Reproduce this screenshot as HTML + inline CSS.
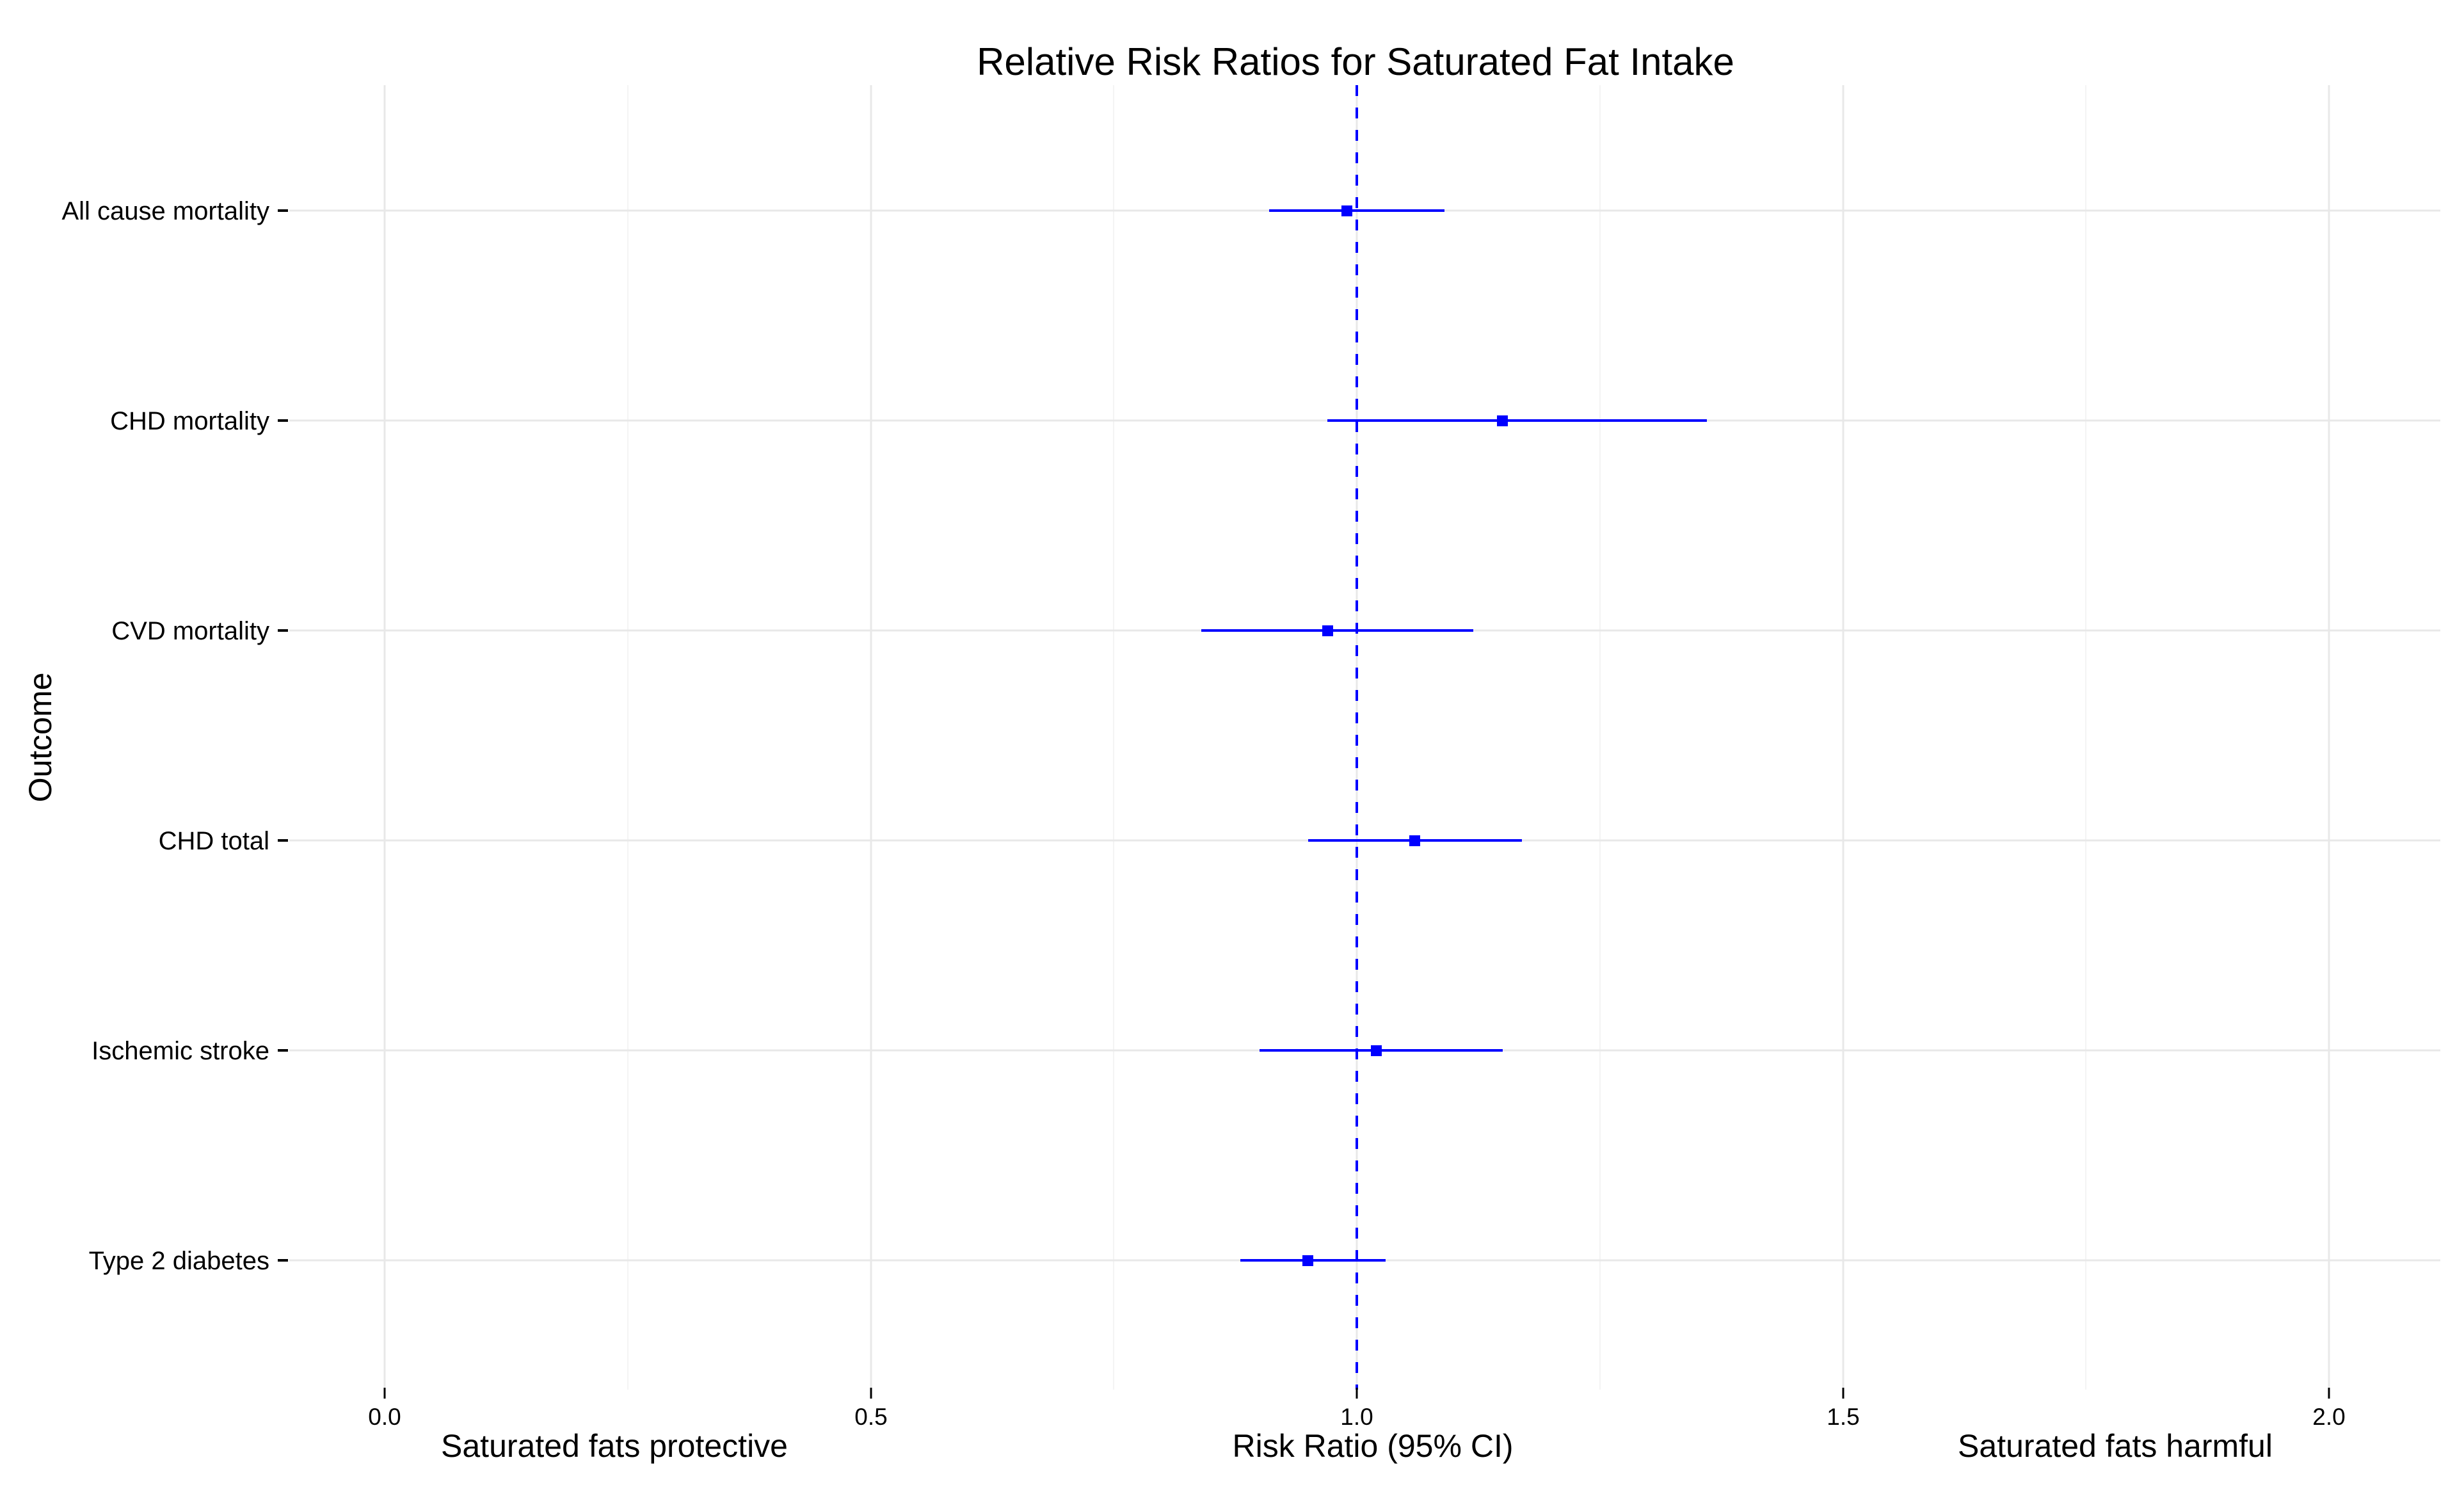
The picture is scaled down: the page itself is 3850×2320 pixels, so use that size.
<!DOCTYPE html>
<html><head><meta charset="utf-8"><style>html,body{margin:0;padding:0;background:#fff}svg{display:block}</style></head>
<body>
<svg width="3850" height="2320" viewBox="0 0 3850 2320" xmlns="http://www.w3.org/2000/svg" font-family="'Liberation Sans', Arial, sans-serif">
<rect width="3850" height="2320" fill="#fff"/>
<g stroke="#f4f4f4" stroke-width="2">
<line x1="981" y1="133" x2="981" y2="2171"/>
<line x1="1740" y1="133" x2="1740" y2="2171"/>
<line x1="2500" y1="133" x2="2500" y2="2171"/>
<line x1="3259" y1="133" x2="3259" y2="2171"/>
</g>
<g stroke="#e8e8e8" stroke-width="3">
<line x1="601" y1="133" x2="601" y2="2171"/>
<line x1="1361" y1="133" x2="1361" y2="2171"/>
<line x1="2120" y1="133" x2="2120" y2="2171"/>
<line x1="2880" y1="133" x2="2880" y2="2171"/>
<line x1="3639" y1="133" x2="3639" y2="2171"/>
</g>
<g stroke="#e8e8e8" stroke-width="3">
<line x1="452" y1="329" x2="3813" y2="329"/>
<line x1="452" y1="657" x2="3813" y2="657"/>
<line x1="452" y1="985" x2="3813" y2="985"/>
<line x1="452" y1="1313" x2="3813" y2="1313"/>
<line x1="452" y1="1641" x2="3813" y2="1641"/>
<line x1="452" y1="1969" x2="3813" y2="1969"/>
</g>
<line x1="2120" y1="133" x2="2120" y2="2171" stroke="#0000ff" stroke-width="4" stroke-dasharray="17,18"/>
<g stroke="#0000ff" stroke-width="4">
<line x1="1983" y1="329" x2="2257" y2="329"/>
<line x1="2074" y1="657" x2="2667" y2="657"/>
<line x1="1877" y1="985" x2="2302" y2="985"/>
<line x1="2044" y1="1313" x2="2378" y2="1313"/>
<line x1="1968" y1="1641" x2="2348" y2="1641"/>
<line x1="1938" y1="1969" x2="2165" y2="1969"/>
</g>
<g fill="#0000ff">
<rect x="2096" y="321" width="17" height="17"/>
<rect x="2339" y="649" width="17" height="17"/>
<rect x="2066" y="977" width="17" height="17"/>
<rect x="2202" y="1305" width="17" height="17"/>
<rect x="2142" y="1633" width="17" height="17"/>
<rect x="2035" y="1961" width="17" height="17"/>
</g>
<g stroke="#000" stroke-width="4">
<line x1="434" y1="329" x2="450" y2="329"/>
<line x1="434" y1="657" x2="450" y2="657"/>
<line x1="434" y1="985" x2="450" y2="985"/>
<line x1="434" y1="1313" x2="450" y2="1313"/>
<line x1="434" y1="1641" x2="450" y2="1641"/>
<line x1="434" y1="1969" x2="450" y2="1969"/>
</g>
<g font-size="40" text-anchor="end" fill="#000">
<text x="421" y="343">All cause mortality</text>
<text x="421" y="671">CHD mortality</text>
<text x="421" y="999">CVD mortality</text>
<text x="421" y="1327">CHD total</text>
<text x="421" y="1655">Ischemic stroke</text>
<text x="421" y="1983">Type 2 diabetes</text>
</g>
<g stroke="#000" stroke-width="3">
<line x1="601" y1="2168" x2="601" y2="2185"/>
<line x1="1361" y1="2168" x2="1361" y2="2185"/>
<line x1="2120" y1="2168" x2="2120" y2="2185"/>
<line x1="2880" y1="2168" x2="2880" y2="2185"/>
<line x1="3639" y1="2168" x2="3639" y2="2185"/>
</g>
<g font-size="37" text-anchor="middle" fill="#000">
<text x="601" y="2226">0.0</text>
<text x="1361" y="2226">0.5</text>
<text x="2120" y="2226">1.0</text>
<text x="2880" y="2226">1.5</text>
<text x="3639" y="2226">2.0</text>
</g>
<g font-size="50" text-anchor="middle" fill="#000">
<text x="960" y="2276">Saturated fats protective</text>
<text x="2145" y="2276">Risk Ratio (95% CI)</text>
<text x="3305" y="2276">Saturated fats harmful</text>
<text transform="translate(80,1152) rotate(-90)">Outcome</text>
</g>
<text x="2118" y="117" font-size="60" text-anchor="middle" fill="#000">Relative Risk Ratios for Saturated Fat Intake</text>
</svg>
</body></html>
